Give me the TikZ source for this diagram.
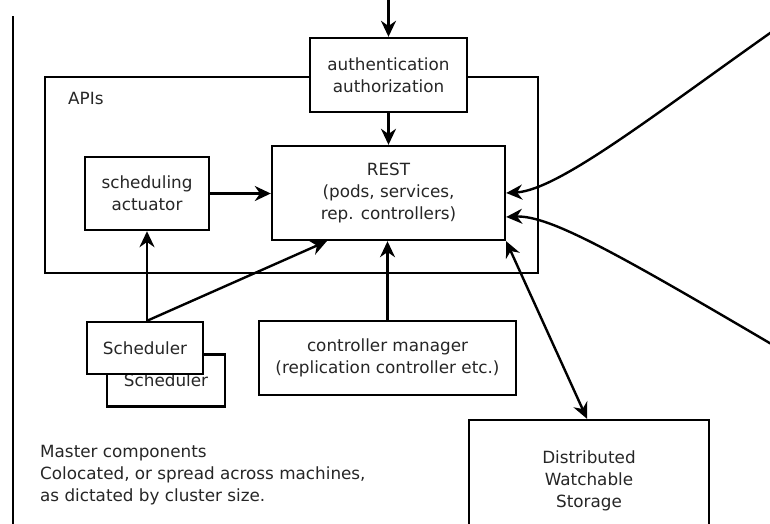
\documentclass[tikz,border=0pt]{standalone}
\usepackage{fontspec}
\setmainfont{DejaVu Sans}
\usetikzlibrary{arrows.meta}

\begin{document}
\begin{tikzpicture}[x=1pt,y=-1pt]
    	\colorlet{txtcolor}{black!85}
    	\tikzset{every node/.style={font=\fontsize{16.8}{22}\selectfont},
    	  box/.style={draw,line width=2.4pt,fill=white,inner sep=0pt,align=center,text=txtcolor},
    	  conn/.style={line width=2.4pt,-{Stealth[length=16pt,width=15pt]}},
    	  lbl/.style={text=txtcolor,inner sep=0pt,align=left}}

    	\clip (0,0) rectangle (770,523);
    	\fill[white] (0,0) rectangle (770,523);
    	\draw[line width=2.4pt] (13,16) -- (13,530);

    	% master boxes
    	\node[box,minimum width=493,minimum height=196] (apis) at (291.5,175) {};
    	\node[lbl,anchor=west] (apislbl) at (68,98) {APIs};
    	\node[box,minimum width=157,minimum height=74] (auth) at (388.5,75) {authentication\\authorization};
    	\node[box,minimum width=233,minimum height=94] (rest) at (388.5,193) {REST\\(pods, services,\\rep. controllers)};
    	\node[box,minimum width=124,minimum height=73] (act) at (147,193.5) {scheduling\\actuator};
    	\node[box,minimum width=118,minimum height=52] (schedb) at (166,380.5) {Scheduler};
    	\node[box,minimum width=116,minimum height=52] (sched) at (145,348) {Scheduler};
    	\node[box,minimum width=257,minimum height=74] (cm) at (387.5,358) {controller manager\\(replication controller etc.)};
    	\node[box,minimum width=240,minimum height=122] (store) at (589,481) {Distributed\\Watchable\\Storage};
    	\node[lbl,anchor=west] (note) at (40,475) {Master components\\Colocated, or spread across machines,\\as dictated by cluster size.};

    	\coordinate (authin) at (388.5,-6);
    	\coordinate (nodein) at (790,19);
    	\coordinate (nodein2) at (790,355);

    	% connectors
    	\draw[conn] (authin) -- (auth);
    	\draw[conn] (auth) -- (rest);
    	\draw[conn] (act.east) -- (act.east -| rest.west);
    	\draw[conn] (sched.north -| act.south) -- (act.south);
    	\draw[conn] (sched.north -| act.south) -- ([xshift=56pt]rest.south west);
    	\draw[conn] (cm.north) -- (cm.north |- rest.south);
    	\draw[line width=2.4pt,{Stealth[length=16pt,width=15pt]}-{Stealth[length=16pt,width=15pt]}]
    	  (rest.south east) -- ([xshift=-2pt]store.north);
    	\draw[conn] (nodein) .. controls (660,110) and (560,190) .. (rest.east);
    	\draw[conn] (nodein2) .. controls (620,255) and (550,215) .. ([yshift=-24pt]rest.east);
\end{tikzpicture}
\end{document}
